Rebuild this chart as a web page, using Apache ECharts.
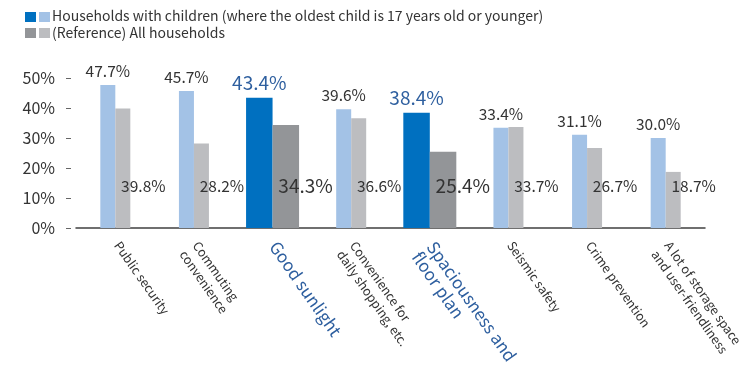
<!DOCTYPE html>
<html>
<head>
<meta charset="utf-8">
<script src="https://cdn.jsdelivr.net/npm/echarts@6/dist/echarts.min.js"></script>
<style>
html,body{margin:0;padding:0;background:#fff;}
#chart{width:742px;height:372px;}
</style>
</head>
<body>
<div id="chart"></div>
<script>
const categories = [
  'Public security',
  'Commuting\nconvenience',
  'Good sunlight',
  'Convenience for\ndaily shopping, etc.',
  'Spaciousness and\nfloor plan',
  'Seismic safety',
  'Crime prevention',
  'A lot of storage space\nand user-friendliness'
];
const childrenValues = [47.7, 45.7, 43.4, 39.6, 38.4, 33.4, 31.1, 30.0];
const allValues = [39.8, 28.2, 34.3, 36.6, 25.4, 33.7, 26.7, 18.7];
const highlighted = [false, false, true, false, true, false, false, false];
const yTicks = [0, 10, 20, 30, 40, 50];
const seriesNames = ['Households with children (where the oldest child is 17 years old or younger)', '(Reference) All households'];

const FONT = '"Noto Sans CJK JP", "Noto Sans", sans-serif';
const C = {
  lightBlue: '#a3c2e6', darkBlue: '#0070c0',
  lightGray: '#bcbdc0', darkGray: '#939598',
  hlText: '#2e5f9f', text: '#333333'
};

function makeRender(side) {
  return function (params, api) {
    const i = api.value(0);
    const v = api.value(1);
    const hl = highlighted[i];
    const w = hl ? 26.5 : 15;
    const top = api.coord([i, v]);
    const base = api.coord([i, 0]);
    const x0 = side === 0 ? top[0] - w : top[0];
    const fill = side === 0 ? (hl ? C.darkBlue : C.lightBlue) : (hl ? C.darkGray : C.lightGray);
    const label = v.toFixed(1) + '%';
    let txt;
    if (side === 0) {
      txt = {
        type: 'text',
        style: {
          text: label, x: top[0] - w / 2, y: top[1] - 6,
          align: 'center', verticalAlign: 'bottom',
          fill: hl ? C.hlText : C.text,
          fontSize: hl ? 19 : 15.5, fontFamily: FONT
        }
      };
    } else {
      const ly = api.coord([i, 14])[1];
      txt = {
        type: 'text',
        z2: 10,
        style: {
          text: label, x: top[0] + (hl ? 33 : 28), y: ly,
          align: 'center', verticalAlign: 'middle',
          fill: C.text,
          fontSize: hl ? 19 : 15.5, fontFamily: FONT
        }
      };
    }
    return {
      type: 'group',
      children: [
        { type: 'rect', shape: { x: x0, y: top[1], width: w, height: base[1] - top[1] }, style: { fill: fill } },
        txt
      ]
    };
  };
}

const chart = echarts.init(document.getElementById('chart'), null, { renderer: 'canvas' });
chart.setOption({
  animation: false,
  backgroundColor: '#fff',
  textStyle: { fontFamily: FONT },
  grid: { left: 76, right: 37, top: 78, bottom: 144, containLabel: false, outerBoundsMode: 'none' },
  legend: {
    orient: 'vertical', left: 36, top: 8, padding: 0,
    itemWidth: 11, itemHeight: 10, itemGap: 1,
    icon: 'rect',
    selectedMode: false,
    itemStyle: { opacity: 0 },
    textStyle: { fontSize: 14, color: C.text, fontFamily: FONT, lineHeight: 16 },
    data: seriesNames
  },
  graphic: [
    { type: 'rect', left: 25, top: 12, shape: { width: 11, height: 10 }, style: { fill: C.darkBlue } },
    { type: 'rect', left: 39, top: 12, shape: { width: 11, height: 10 }, style: { fill: C.lightBlue } },
    { type: 'rect', left: 25, top: 28, shape: { width: 11, height: 10 }, style: { fill: C.darkGray } },
    { type: 'rect', left: 39, top: 28, shape: { width: 11, height: 10 }, style: { fill: C.lightGray } }
  ],
  xAxis: {
    type: 'category',
    data: categories,
    boundaryGap: true,
    axisLine: { lineStyle: { color: '#404040', width: 1.5 } },
    axisTick: { show: false },
    axisLabel: {
      interval: 0, rotate: -55, margin: 10,
      align: 'left', verticalAlign: 'top',
      padding: [-7, 0, 0, 5],
      fontSize: 12.5, color: C.text, fontFamily: FONT, lineHeight: 16,
      formatter: function (val, idx) {
        if (highlighted[idx]) {
          return val.split('\n').map(s => '{h|' + s + '}').join('\n');
        }
        return val;
      },
      rich: {
        h: { fontSize: 17, color: C.hlText, fontFamily: FONT, lineHeight: 18 }
      }
    }
  },
  yAxis: {
    type: 'value',
    min: yTicks[0], max: yTicks[yTicks.length - 1], interval: 10,
    offset: 10,
    axisLine: { show: false },
    axisTick: { show: true, inside: true, length: 5, lineStyle: { color: '#666' } },
    splitLine: { show: false },
    axisLabel: {
      formatter: '{value}%', fontSize: 16, color: C.text, fontFamily: FONT, margin: 11
    }
  },
  series: [
    {
      name: seriesNames[0], type: 'custom',
      itemStyle: { color: C.lightBlue },
      encode: { x: 0, y: 1 },
      data: childrenValues.map((v, i) => [i, v]),
      renderItem: makeRender(0)
    },
    {
      name: seriesNames[1], type: 'custom',
      itemStyle: { color: C.lightGray },
      encode: { x: 0, y: 1 },
      data: allValues.map((v, i) => [i, v]),
      renderItem: makeRender(1)
    }
  ]
});
</script>
</body>
</html>
